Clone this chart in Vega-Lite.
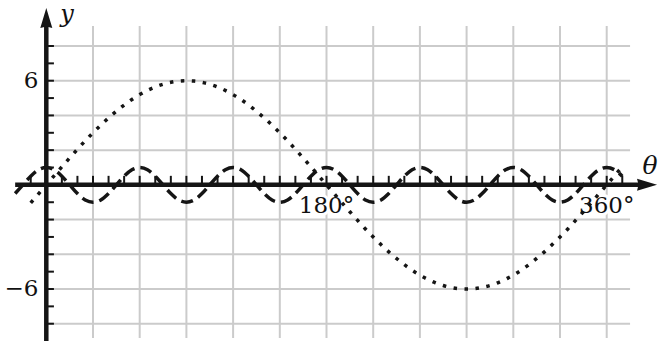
{
  "$schema": "https://vega.github.io/schema/vega-lite/v6.json",
  "width": 658,
  "height": 341,
  "padding": 0,
  "autosize": {"type": "none"},
  "config": {"view": {"stroke": null}, "text": {"font": "DejaVu Serif"}},
  "datasets": {
    "vgrid": [{"t":30},{"t":60},{"t":90},{"t":120},{"t":150},{"t":180},{"t":210},{"t":240},{"t":270},{"t":300},{"t":330},{"t":360}],
    "hgrid": [{"v":-8},{"v":-6},{"v":-4},{"v":-2},{"v":2},{"v":4},{"v":6},{"v":8}],
    "xticks": [{"t":-10},{"t":10},{"t":20},{"t":30},{"t":40},{"t":50},{"t":60},{"t":70},{"t":80},{"t":90},{"t":100},{"t":110},{"t":120},{"t":130},{"t":140},{"t":150},{"t":160},{"t":170},{"t":180},{"t":190},{"t":200},{"t":210},{"t":220},{"t":230},{"t":240},{"t":250},{"t":260},{"t":270},{"t":280},{"t":290},{"t":300},{"t":310},{"t":320},{"t":330},{"t":340},{"t":350},{"t":360},{"t":370}],
    "yticks": [{"v":-8},{"v":-7},{"v":-6},{"v":-5},{"v":-4},{"v":-3},{"v":-2},{"v":-1},{"v":1},{"v":2},{"v":3},{"v":4},{"v":5},{"v":6},{"v":7},{"v":8}],
    "xlabels": [{"t":180,"label":"180°"},{"t":360,"label":"360°"}],
    "ylabels": [{"v":6,"label":"6"},{"v":-6,"label":"−6"}],
    "sine": [
      {"t":-10,"v":-1.04},{"t":-5,"v":-0.52},{"t":0,"v":0},{"t":5,"v":0.52},{"t":10,"v":1.04},{"t":15,"v":1.55},{"t":20,"v":2.05},{"t":25,"v":2.54},{"t":30,"v":3},{"t":35,"v":3.44},{"t":40,"v":3.86},{"t":45,"v":4.24},{"t":50,"v":4.6},{"t":55,"v":4.92},{"t":60,"v":5.2},{"t":65,"v":5.44},{"t":70,"v":5.64},{"t":75,"v":5.8},{"t":80,"v":5.91},{"t":85,"v":5.98},{"t":90,"v":6},
      {"t":95,"v":5.98},{"t":100,"v":5.91},{"t":105,"v":5.8},{"t":110,"v":5.64},{"t":115,"v":5.44},{"t":120,"v":5.2},{"t":125,"v":4.92},{"t":130,"v":4.6},{"t":135,"v":4.24},{"t":140,"v":3.86},{"t":145,"v":3.44},{"t":150,"v":3},{"t":155,"v":2.54},{"t":160,"v":2.05},{"t":165,"v":1.55},{"t":170,"v":1.04},{"t":175,"v":0.52},{"t":180,"v":0},
      {"t":185,"v":-0.52},{"t":190,"v":-1.04},{"t":195,"v":-1.55},{"t":200,"v":-2.05},{"t":205,"v":-2.54},{"t":210,"v":-3},{"t":215,"v":-3.44},{"t":220,"v":-3.86},{"t":225,"v":-4.24},{"t":230,"v":-4.6},{"t":235,"v":-4.92},{"t":240,"v":-5.2},{"t":245,"v":-5.44},{"t":250,"v":-5.64},{"t":255,"v":-5.8},{"t":260,"v":-5.91},{"t":265,"v":-5.98},{"t":270,"v":-6},
      {"t":275,"v":-5.98},{"t":280,"v":-5.91},{"t":285,"v":-5.8},{"t":290,"v":-5.64},{"t":295,"v":-5.44},{"t":300,"v":-5.2},{"t":305,"v":-4.92},{"t":310,"v":-4.6},{"t":315,"v":-4.24},{"t":320,"v":-3.86},{"t":325,"v":-3.44},{"t":330,"v":-3},{"t":335,"v":-2.54},{"t":340,"v":-2.05},{"t":345,"v":-1.55},{"t":350,"v":-1.04},{"t":355,"v":-0.52},{"t":360,"v":0},{"t":365,"v":0.52},{"t":370,"v":1.04}
    ],
    "wave": [
      {"t":-20,"v":-0.5},{"t":-15,"v":0},{"t":-10,"v":0.5},{"t":-5,"v":0.87},
      {"t":0,"v":1},{"t":5,"v":0.87},{"t":10,"v":0.5},{"t":15,"v":0},{"t":20,"v":-0.5},{"t":25,"v":-0.87},{"t":30,"v":-1},{"t":35,"v":-0.87},{"t":40,"v":-0.5},{"t":45,"v":0},{"t":50,"v":0.5},{"t":55,"v":0.87},
      {"t":60,"v":1},{"t":65,"v":0.87},{"t":70,"v":0.5},{"t":75,"v":0},{"t":80,"v":-0.5},{"t":85,"v":-0.87},{"t":90,"v":-1},{"t":95,"v":-0.87},{"t":100,"v":-0.5},{"t":105,"v":0},{"t":110,"v":0.5},{"t":115,"v":0.87},
      {"t":120,"v":1},{"t":125,"v":0.87},{"t":130,"v":0.5},{"t":135,"v":0},{"t":140,"v":-0.5},{"t":145,"v":-0.87},{"t":150,"v":-1},{"t":155,"v":-0.87},{"t":160,"v":-0.5},{"t":165,"v":0},{"t":170,"v":0.5},{"t":175,"v":0.87},
      {"t":180,"v":1},{"t":185,"v":0.87},{"t":190,"v":0.5},{"t":195,"v":0},{"t":200,"v":-0.5},{"t":205,"v":-0.87},{"t":210,"v":-1},{"t":215,"v":-0.87},{"t":220,"v":-0.5},{"t":225,"v":0},{"t":230,"v":0.5},{"t":235,"v":0.87},
      {"t":240,"v":1},{"t":245,"v":0.87},{"t":250,"v":0.5},{"t":255,"v":0},{"t":260,"v":-0.5},{"t":265,"v":-0.87},{"t":270,"v":-1},{"t":275,"v":-0.87},{"t":280,"v":-0.5},{"t":285,"v":0},{"t":290,"v":0.5},{"t":295,"v":0.87},
      {"t":300,"v":1},{"t":305,"v":0.87},{"t":310,"v":0.5},{"t":315,"v":0},{"t":320,"v":-0.5},{"t":325,"v":-0.87},{"t":330,"v":-1},{"t":335,"v":-0.87},{"t":340,"v":-0.5},{"t":345,"v":0},{"t":350,"v":0.5},{"t":355,"v":0.87},
      {"t":360,"v":1},{"t":365,"v":0.87},{"t":370,"v":0.5}
    ],
    "one": [{}]
  },
  "layer": [
    {
      "data": {"name": "vgrid"},
      "mark": {"type": "rule", "color": "#cbcbcb", "strokeWidth": 2},
      "encoding": {
        "x": {"field": "t", "type": "quantitative", "scale": {"domain": [-29.74, 392.95], "nice": false, "zero": false}, "axis": null},
        "y": {"datum": -8.82, "type": "quantitative", "scale": {"domain": [-8.995, 10.65], "nice": false, "zero": false}, "axis": null},
        "y2": {"datum": 9.15}
      }
    },
    {
      "data": {"name": "hgrid"},
      "mark": {"type": "rule", "color": "#cbcbcb", "strokeWidth": 2},
      "encoding": {
        "y": {"field": "v", "type": "quantitative", "scale": {"domain": [-8.995, 10.65], "nice": false, "zero": false}, "axis": null},
        "x": {"datum": 0, "type": "quantitative", "scale": {"domain": [-29.74, 392.95], "nice": false, "zero": false}, "axis": null},
        "x2": {"datum": 375}
      }
    },
    {
      "data": {"name": "xlabels"},
      "mark": {"type": "text", "font": "DejaVu Serif", "fontSize": 23, "align": "center", "baseline": "alphabetic", "dy": 28, "fill": "white", "stroke": "white", "strokeWidth": 6, "strokeJoin": "round"},
      "encoding": {
        "x": {"field": "t", "type": "quantitative", "scale": {"domain": [-29.74, 392.95], "nice": false, "zero": false}, "axis": null},
        "y": {"datum": 0, "type": "quantitative", "scale": {"domain": [-8.995, 10.65], "nice": false, "zero": false}, "axis": null},
        "text": {"field": "label", "type": "nominal"}
      }
    },
    {
      "data": {"name": "wave"},
      "mark": {"type": "line", "interpolate": "monotone", "color": "#151515", "strokeWidth": 3.5, "strokeDash": [12, 6]},
      "encoding": {
        "x": {"field": "t", "type": "quantitative", "scale": {"domain": [-29.74, 392.95], "nice": false, "zero": false}, "axis": null},
        "y": {"field": "v", "type": "quantitative", "scale": {"domain": [-8.995, 10.65], "nice": false, "zero": false}, "axis": null}
      }
    },
    {
      "data": {"name": "sine"},
      "mark": {"type": "line", "interpolate": "monotone", "color": "#151515", "strokeWidth": 3.5, "strokeDash": [3.5, 7.5]},
      "encoding": {
        "x": {"field": "t", "type": "quantitative", "scale": {"domain": [-29.74, 392.95], "nice": false, "zero": false}, "axis": null},
        "y": {"field": "v", "type": "quantitative", "scale": {"domain": [-8.995, 10.65], "nice": false, "zero": false}, "axis": null}
      }
    },
    {
      "data": {"name": "one"},
      "mark": {"type": "rule", "color": "#151515", "strokeWidth": 4.5},
      "encoding": {
        "x": {"datum": -20, "type": "quantitative", "scale": {"domain": [-29.74, 392.95], "nice": false, "zero": false}, "axis": null},
        "x2": {"datum": 385},
        "y": {"datum": 0, "type": "quantitative", "scale": {"domain": [-8.995, 10.65], "nice": false, "zero": false}, "axis": null}
      }
    },
    {
      "data": {"name": "one"},
      "mark": {"type": "rule", "color": "#151515", "strokeWidth": 4.5},
      "encoding": {
        "x": {"datum": 0, "type": "quantitative", "scale": {"domain": [-29.74, 392.95], "nice": false, "zero": false}, "axis": null},
        "y": {"datum": -9.5, "type": "quantitative", "scale": {"domain": [-8.995, 10.65], "nice": false, "zero": false}, "axis": null},
        "y2": {"datum": 9.5}
      }
    },
    {
      "data": {"name": "xticks"},
      "mark": {"type": "rule", "color": "#151515", "strokeWidth": 2},
      "encoding": {
        "x": {"field": "t", "type": "quantitative", "scale": {"domain": [-29.74, 392.95], "nice": false, "zero": false}, "axis": null},
        "y": {"datum": 0, "type": "quantitative", "scale": {"domain": [-8.995, 10.65], "nice": false, "zero": false}, "axis": null},
        "y2": {"datum": 0.52}
      }
    },
    {
      "data": {"name": "yticks"},
      "mark": {"type": "rule", "color": "#151515", "strokeWidth": 2},
      "encoding": {
        "y": {"field": "v", "type": "quantitative", "scale": {"domain": [-8.995, 10.65], "nice": false, "zero": false}, "axis": null},
        "x": {"datum": 0, "type": "quantitative", "scale": {"domain": [-29.74, 392.95], "nice": false, "zero": false}, "axis": null},
        "x2": {"datum": 4.9}
      }
    },
    {
      "data": {"name": "one"},
      "mark": {"type": "point", "shape": "M0,-1L0.6,1L0,0.85L-0.6,1Z", "size": 400, "filled": true, "opacity": 1, "color": "#151515", "strokeWidth": 0},
      "encoding": {
        "x": {"datum": 0, "type": "quantitative", "scale": {"domain": [-29.74, 392.95], "nice": false, "zero": false}, "axis": null},
        "y": {"datum": 9.61, "type": "quantitative", "scale": {"domain": [-8.995, 10.65], "nice": false, "zero": false}, "axis": null}
      }
    },
    {
      "data": {"name": "one"},
      "mark": {"type": "point", "shape": "M0,-1L0.6,1L0,0.85L-0.6,1Z", "size": 400, "angle": 90, "filled": true, "opacity": 1, "color": "#151515", "strokeWidth": 0},
      "encoding": {
        "x": {"datum": 385.9, "type": "quantitative", "scale": {"domain": [-29.74, 392.95], "nice": false, "zero": false}, "axis": null},
        "y": {"datum": 0, "type": "quantitative", "scale": {"domain": [-8.995, 10.65], "nice": false, "zero": false}, "axis": null}
      }
    },
    {
      "data": {"name": "xlabels"},
      "mark": {"type": "text", "font": "DejaVu Serif", "fontSize": 23, "align": "center", "baseline": "alphabetic", "dy": 28, "color": "#111111"},
      "encoding": {
        "x": {"field": "t", "type": "quantitative", "scale": {"domain": [-29.74, 392.95], "nice": false, "zero": false}, "axis": null},
        "y": {"datum": 0, "type": "quantitative", "scale": {"domain": [-8.995, 10.65], "nice": false, "zero": false}, "axis": null},
        "text": {"field": "label", "type": "nominal"}
      }
    },
    {
      "data": {"name": "ylabels"},
      "mark": {"type": "text", "font": "DejaVu Serif", "fontSize": 23, "align": "right", "baseline": "middle", "dx": -8, "color": "#111111"},
      "encoding": {
        "y": {"field": "v", "type": "quantitative", "scale": {"domain": [-8.995, 10.65], "nice": false, "zero": false}, "axis": null},
        "x": {"datum": 0, "type": "quantitative", "scale": {"domain": [-29.74, 392.95], "nice": false, "zero": false}, "axis": null},
        "text": {"field": "label", "type": "nominal"}
      }
    },
    {
      "data": {"name": "one"},
      "mark": {"type": "text", "text": "y", "font": "DejaVu Serif", "fontStyle": "italic", "fontSize": 24, "align": "left", "baseline": "alphabetic", "dx": 14, "color": "#111111"},
      "encoding": {
        "x": {"datum": 0, "type": "quantitative", "scale": {"domain": [-29.74, 392.95], "nice": false, "zero": false}, "axis": null},
        "y": {"datum": 9.4, "type": "quantitative", "scale": {"domain": [-8.995, 10.65], "nice": false, "zero": false}, "axis": null}
      }
    },
    {
      "data": {"name": "one"},
      "mark": {"type": "text", "text": "θ", "font": "DejaVu Serif", "fontStyle": "italic", "fontSize": 25, "align": "center", "baseline": "alphabetic", "dx": 3, "dy": -11, "color": "#111111"},
      "encoding": {
        "x": {"datum": 385.9, "type": "quantitative", "scale": {"domain": [-29.74, 392.95], "nice": false, "zero": false}, "axis": null},
        "y": {"datum": 0, "type": "quantitative", "scale": {"domain": [-8.995, 10.65], "nice": false, "zero": false}, "axis": null}
      }
    }
  ]
}
